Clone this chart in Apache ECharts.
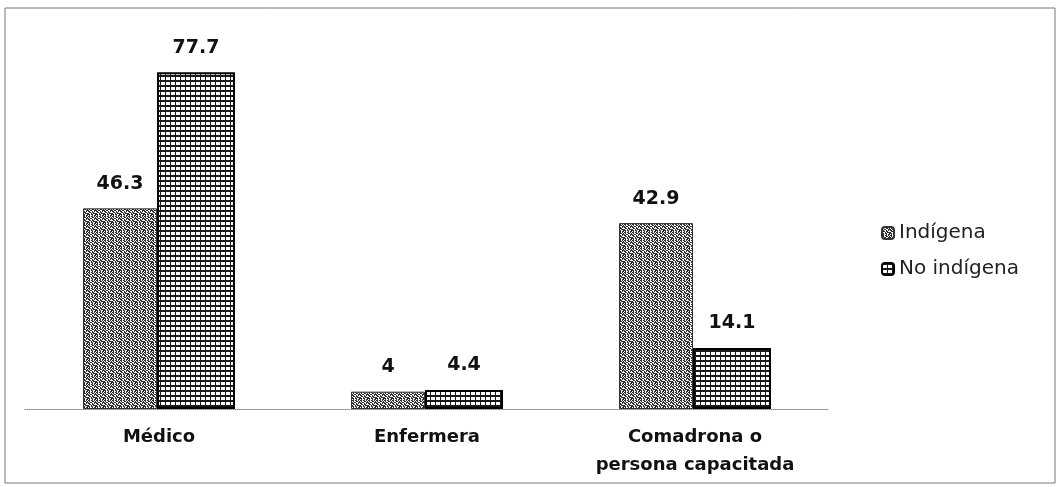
<!DOCTYPE html>
<html>
<head>
<meta charset="utf-8">
<script src="https://cdn.jsdelivr.net/npm/echarts@6/dist/echarts.min.js"></script>
<style>
html, body { margin: 0; padding: 0; background: #fff; }
#main { width: 1058px; height: 487px; }
</style>
</head>
<body>
<div id="main"></div>
<script>
var categories = ["Médico", "Enfermera", "Comadrona o\npersona capacitada"];
var indigena = [46.3, 4, 42.9];
var noIndigena = [77.7, 4.4, 14.1];
var seriesNames = ["Indígena", "No indígena"];

// stipple pattern (gray, maze-like)
function makeStipple() {
	var c = document.createElement("canvas");
	c.width = 8; c.height = 8;
	var ctx = c.getContext("2d");
	ctx.fillStyle = "#ffffff";
	ctx.fillRect(0, 0, 8, 8);
	ctx.fillStyle = "#2a2a2a";
	var rows = [
		"XX.XX.X.",
		".X..XX.X",
		"X.XX..XX",
		"XX..X.X.",
		".XX.XX..",
		"X..X.XXX",
		"XX.XX..X",
		".X..X.XX"
	];
	for (var y = 0; y < 8; y++) {
		for (var x = 0; x < 8; x++) {
			if (rows[y].charAt(x) === "X") ctx.fillRect(x, y, 1, 1);
		}
	}
	return c;
}
// grid pattern (black lines on white)
function makeGrid() {
	var c = document.createElement("canvas");
	c.width = 5; c.height = 5;
	var ctx = c.getContext("2d");
	ctx.fillStyle = "#ffffff";
	ctx.fillRect(0, 0, 5, 5);
	ctx.fillStyle = "#1a1a1a";
	ctx.fillRect(0, 0, 5, 2);
	ctx.fillRect(0, 0, 1, 5);
	return c;
}

var chart = echarts.init(document.getElementById("main"));
var labelStyle = {
	show: true,
	position: "top",
	distance: 15,
	fontFamily: "DejaVu Sans",
	fontWeight: "bold",
	fontSize: 19,
	color: "#111"
};
var option = {
	animation: false,
	backgroundColor: "#fff",
	graphic: [{
		type: "rect",
		shape: { x: 5, y: 8, width: 1050, height: 475 },
		style: { fill: "none", stroke: "#777", lineWidth: 1 },
		silent: true
	}],
	legend: {
		orient: "vertical",
		left: 876,
		top: 218,
		itemWidth: 12,
		itemHeight: 12,
		itemGap: 16,
		textStyle: { fontFamily: "DejaVu Sans", fontSize: 20, color: "#222" },
		data: seriesNames
	},
	grid: { left: 25, right: 229, top: 19, bottom: 78 },
	xAxis: {
		type: "category",
		data: categories,
		axisLine: { lineStyle: { color: "#888", type: "dotted", width: 1 } },
		axisTick: { show: false },
		axisLabel: {
			margin: 14,
			fontFamily: "DejaVu Sans",
			fontWeight: "bold",
			fontSize: 18,
			lineHeight: 28,
			color: "#111"
		}
	},
	yAxis: {
		type: "value",
		min: 0,
		max: 90,
		show: false
	},
	series: [{
		name: seriesNames[0],
		type: "bar",
		data: indigena,
		barWidth: 74,
		barGap: "0%",
		itemStyle: {
			color: { image: makeStipple(), repeat: "repeat" },
			borderColor: "#333",
			borderWidth: 1
		},
		label: labelStyle
	}, {
		name: seriesNames[1],
		type: "bar",
		data: noIndigena,
		barWidth: 78,
		barGap: "0%",
		itemStyle: {
			color: { image: makeGrid(), repeat: "repeat" },
			borderColor: "#000",
			borderWidth: 2
		},
		label: labelStyle
	}]
};
chart.setOption(option);
</script>
</body>
</html>
